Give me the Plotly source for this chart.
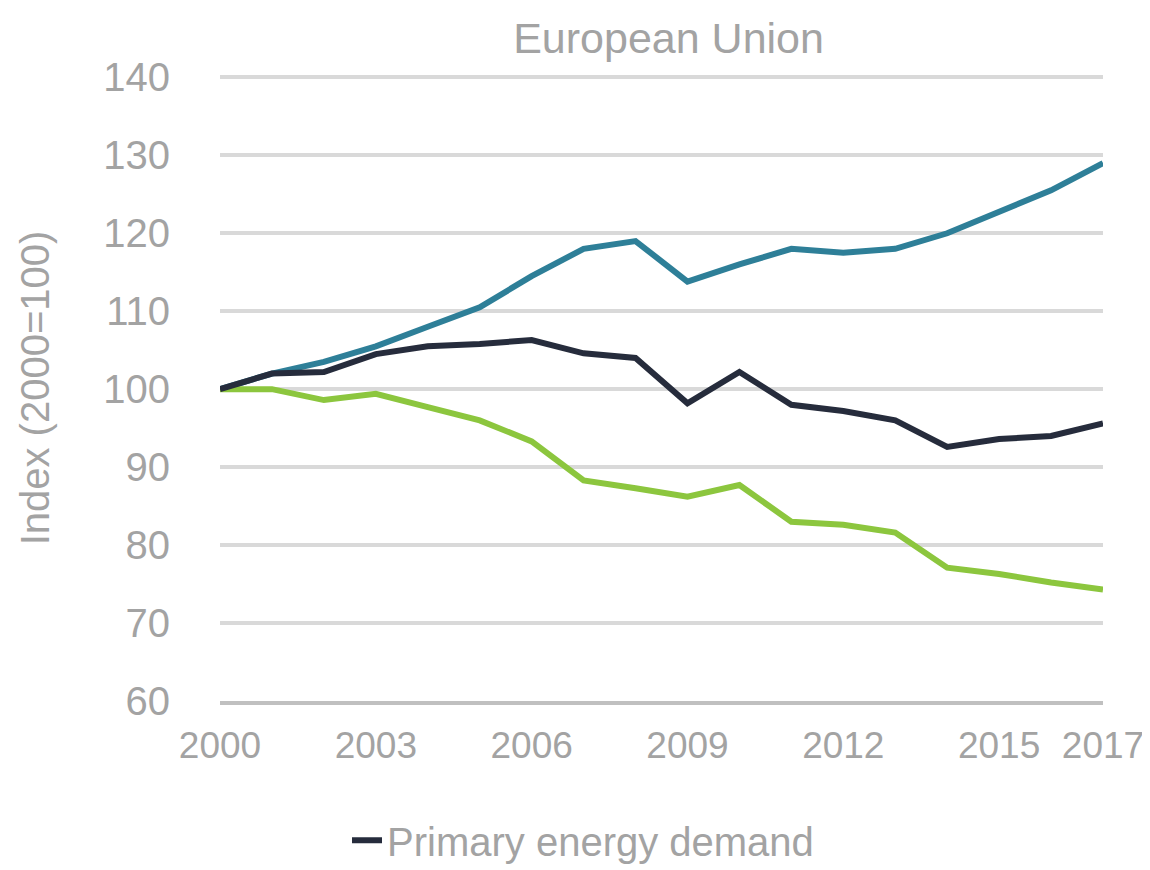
import plotly.graph_objects as go

years = list(range(2000, 2018))

# series (index, 2000 = 100)
gdp = [100, 102.0, 103.5, 105.5, 108.0, 110.5, 114.5, 118.0, 119.0, 113.8,
       116.0, 118.0, 117.5, 118.0, 120.0, 122.8, 125.5, 129.0]
energy_demand = [100, 102.0, 102.2, 104.5, 105.5, 105.8, 106.3, 104.6, 104.0, 98.2,
                 102.2, 98.0, 97.2, 96.0, 92.6, 93.6, 94.0, 95.6]
intensity = [100, 100.0, 98.6, 99.4, 97.7, 96.0, 93.3, 88.3, 87.3, 86.2,
             87.7, 83.0, 82.6, 81.6, 77.1, 76.3, 75.2, 74.3]

x_ticks = [2000, 2003, 2006, 2009, 2012, 2015, 2017]
y_ticks = [60, 70, 80, 90, 100, 110, 120, 130, 140]

font_family = "Liberation Sans, Arial, sans-serif"
grey = "#a3a3a3"

fig = go.Figure()

fig.add_trace(go.Scatter(x=years, y=gdp, mode="lines", name="GDP",
                         line=dict(color="#2e7f98", width=6), showlegend=False))
fig.add_trace(go.Scatter(x=years, y=intensity, mode="lines", name="Energy intensity",
                         line=dict(color="#8cc63e", width=6), showlegend=False))
fig.add_trace(go.Scatter(x=years, y=energy_demand, mode="lines", name="Primary energy demand",
                         line=dict(color="#262c3c", width=6)))

fig.update_layout(
    width=1150, height=870,
    paper_bgcolor="white", plot_bgcolor="white",
    margin=dict(l=212, r=55, t=67, b=177),
    font=dict(family=font_family, size=40, color=grey),
    title=dict(text="European Union", x=0.508, xref="paper", xanchor="center",
               y=0.9655, yref="container", yanchor="middle",
               font=dict(family=font_family, size=43, color=grey)),
    legend=dict(orientation="h", x=0.5, xref="container", xanchor="center",
                y=0.006, yref="container", yanchor="bottom",
                font=dict(family=font_family, size=40, color=grey)),
    showlegend=True,
)

# top of range nudged up so the 140 gridline is not dropped at the edge
fig.update_xaxes(range=[2000, 2017], tickvals=x_ticks, ticktext=[str(t) for t in x_ticks],
                 showgrid=False, zeroline=False, showline=True,
                 linecolor="#c0c0c0", linewidth=4, ticks="", ticklabelstandoff=9,
                 ticklabeloverflow="allow",
                 tickfont=dict(family=font_family, size=37, color=grey))
fig.update_yaxes(range=[60, 140.3], tickvals=y_ticks, showgrid=True,
                 gridcolor="#d9d9d9", gridwidth=4, zeroline=False, showline=False,
                 ticks="", ticklabelstandoff=49,
                 tickfont=dict(family=font_family, size=40, color=grey),
                 title=dict(text="Index (2000=100)", standoff=41,
                            font=dict(family=font_family, size=40, color=grey)))

fig.write_html("out.html")
